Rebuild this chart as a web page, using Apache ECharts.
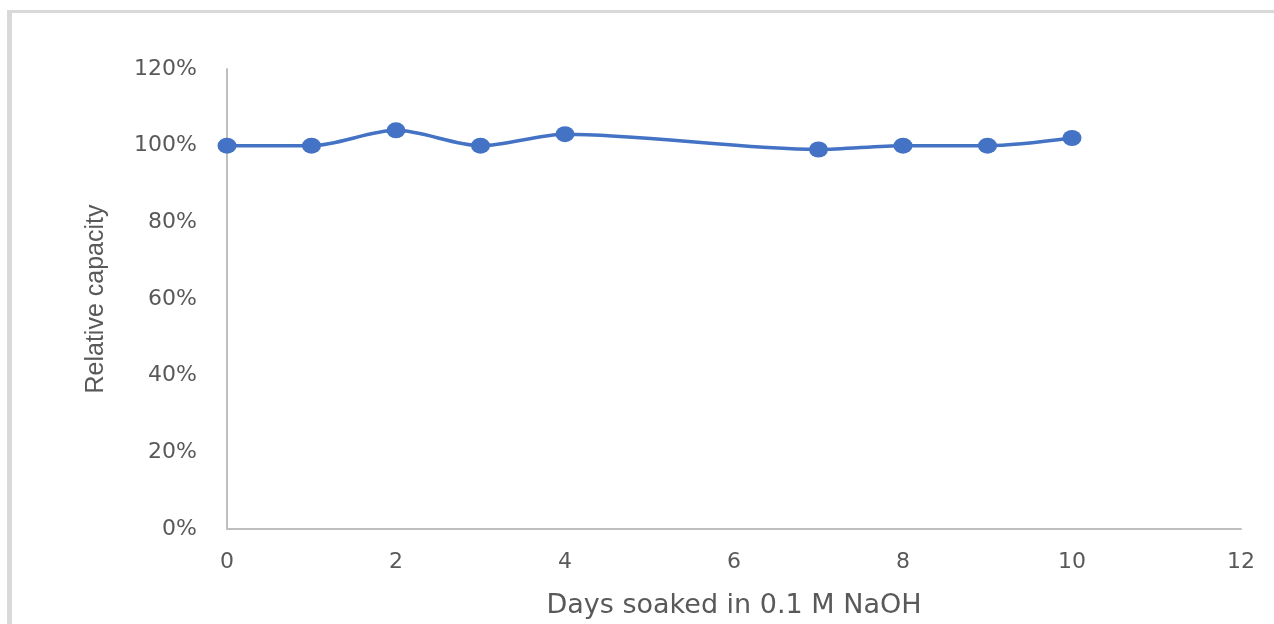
<!DOCTYPE html>
<html>
<head>
<meta charset="utf-8">
<script src="https://cdn.jsdelivr.net/npm/echarts@6/dist/echarts.min.js"></script>
<style>
  html, body { margin: 0; padding: 0; background: #fff; overflow: hidden; width: 1274px; height: 624px; }
  #frame {
    position: absolute; left: 7px; top: 10px; width: 1262px; height: 614px;
    border-left: 5px solid #d9d9d9; border-top: 3px solid #d9d9d9;
  }
  #chart { position: absolute; left: 0; top: 0; width: 1274px; height: 624px; }
</style>
</head>
<body>
<div id="frame"></div>
<div id="chart"></div>
<script>
// days soaked vs relative capacity (%)
const days = [0, 1, 2, 3, 4, 7, 8, 9, 10]
const capacity = [100, 100, 104, 100, 103, 99, 100, 100, 102]
const xTicks = [0, 2, 4, 6, 8, 10, 12]
const yTicks = [0, 20, 40, 60, 80, 100, 120]

const chart = echarts.init(document.getElementById("chart"))

const axisText = { color: "#595959", fontFamily: "DejaVu Sans", fontSize: 22 }

chart.setOption({
  animation: false,
  grid: { left: 227, right: 33, top: 69, bottom: 95, containLabel: false, outerBoundsMode: "none" },
  xAxis: {
    type: "value",
    min: xTicks[0],
    max: xTicks[xTicks.length - 1],
    interval: 2,
    name: "Days soaked in 0.1 M NaOH",
    nameLocation: "middle",
    nameGap: 63,
    nameTextStyle: { color: "#595959", fontFamily: "DejaVu Sans", fontSize: 27 },
    axisLine: { lineStyle: { color: "#bfbfbf", width: 2 } },
    axisTick: { show: false },
    splitLine: { show: false },
    axisLabel: Object.assign({ margin: 22 }, axisText)
  },
  yAxis: {
    type: "value",
    min: yTicks[0],
    max: yTicks[yTicks.length - 1],
    interval: 20,
    name: "Relative capacity",
    nameLocation: "middle",
    nameGap: 118,
    nameTextStyle: { color: "#595959", fontFamily: "Liberation Sans", fontSize: 25 },
    axisLine: { show: true, lineStyle: { color: "#bfbfbf", width: 2 } },
    axisTick: { show: false },
    splitLine: { show: false },
    axisLabel: Object.assign({ margin: 30, formatter: v => v + "%" }, axisText)
  },
  series: [
    {
      type: "line",
      data: days.map((d, i) => [d, capacity[i]]),
      smooth: 0.3,
      symbol: "circle",
      symbolSize: [19, 16],
      lineStyle: { color: "#4472c4", width: 3.5 },
      itemStyle: { color: "#4472c4" }
    }
  ]
})
</script>
</body>
</html>
